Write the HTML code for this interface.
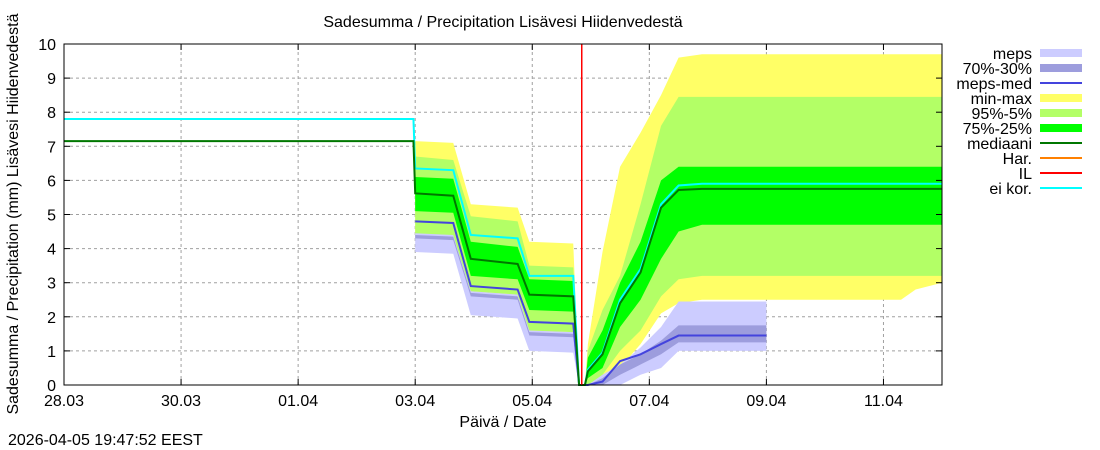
<!DOCTYPE html>
<html><head><meta charset="utf-8"><style>
body{margin:0;background:#fff;}
svg{display:block;font-family:"Liberation Sans",sans-serif;}
</style></head><body>
<svg id="chart" width="1100" height="450" xmlns="http://www.w3.org/2000/svg">
<text x="503" y="27" font-size="16" text-anchor="middle">Sadesumma / Precipitation  Lisävesi Hiidenvedestä</text>
<text transform="translate(18,214) rotate(-90)" font-size="16" text-anchor="middle">Sadesumma / Precipitation (mm)  Lisävesi Hiidenvedestä</text>
<text x="503" y="427" font-size="16" text-anchor="middle">Päivä / Date</text>
<text x="8" y="445" font-size="16">2026-04-05 19:47:52 EEST</text>
<g id="grid"></g>
<g id="bands"></g>
<g id="lines"></g>
<g id="axes"></g>
<g id="legend"></g>
</svg>
<script>
const T      = [0, 5.97, 6.0, 6.65, 6.95, 7.75, 7.95, 8.7, 8.8, 8.9, 8.95, 9.2, 9.5, 9.85, 10.2, 10.5, 10.9, 12.0, 14.3, 14.55, 15.0];
const yMax   = [null,null, 7.15,7.1,5.3,5.2,4.2,4.15,0, 0, 1.2,3.9,6.4,7.4,8.5,9.6,9.7,9.7,9.7,9.7,9.7];
const yMin   = [null,null, 4.35,4.3,2.7,2.6,1.55,1.5,0, 0, 0,0,0.5,1.2,2.1,2.4,2.5,2.5,2.5,2.8,3.0];
const p95    = [null,null, 6.7,6.6,4.95,4.8,3.5,3.45,0, 0, 1.0,2.2,3.2,5.3,7.6,8.45,8.45,8.45,8.45,8.45,8.45];
const p5     = [null,null, 4.4,4.35,2.75,2.65,1.6,1.55,0, 0, 0,0.3,1.0,1.6,2.6,3.1,3.2,3.2,3.2,3.2,3.2];
const p75    = [null,null, 6.1,6.05,4.2,4.05,3.1,3.05,0, 0, 0.8,1.6,3.0,4.2,6.0,6.4,6.4,6.4,6.4,6.4,6.4];
const p25    = [null,null, 5.1,5.05,3.2,3.1,2.2,2.15,0, 0, 0.2,0.5,1.7,2.5,3.7,4.5,4.7,4.7,4.7,4.7,4.7];
const med    = [7.15,7.15, 5.62,5.55,3.7,3.55,2.65,2.6,0, 0, 0.4,0.9,2.4,3.3,5.2,5.72,5.75,5.75,5.75,5.75,5.75];
const eiKor  = [7.8,7.8, 6.35,6.3,4.4,4.3,3.2,3.2,0, 0, 0.45,0.95,2.5,3.4,5.3,5.85,5.9,5.9,5.9,5.9,5.9];
const mepsMax= [null,null, 4.45,4.4,2.75,2.65,1.6,1.55,0, 0, 0,0.3,0.6,1.1,1.7,2.45,2.45,2.45,null,null,null];
const mepsMin= [null,null, 3.9,3.85,2.05,1.95,1.0,0.95,0, 0, 0,0,0,0.3,0.5,1.0,1.0,1.0,null,null,null];
const meps70 = [null,null, 4.4,4.35,2.7,2.6,1.55,1.5,0, 0, 0,0.2,0.6,0.9,1.3,1.75,1.75,1.75,null,null,null];
const meps30 = [null,null, 4.3,4.25,2.6,2.5,1.45,1.4,0, 0, 0,0,0.3,0.6,0.9,1.25,1.25,1.25,null,null,null];
const mepsMed= [null,null, 4.8,4.75,2.9,2.8,1.85,1.8,0, 0, 0,0.1,0.7,0.9,1.2,1.45,1.45,1.45,null,null,null];
const xTickDays = [0,2,4,6,8,10,12,14];
const xTickLabels = ["28.03","30.03","01.04","03.04","05.04","07.04","09.04","11.04"];
const yTicks = [0,1,2,3,4,5,6,7,8,9,10];
const ilDay = 8.84;

const X0=64,X1=942,Y0=385,Y1=44;
const sx=d=>X0+d*(X1-X0)/15;
const sy=v=>Y0-v*(Y0-Y1)/10;
const NS="http://www.w3.org/2000/svg";
function mk(tag,attrs,parent){const e=document.createElementNS(NS,tag);for(const k in attrs)e.setAttribute(k,attrs[k]);parent.appendChild(e);return e;}
const grid=document.getElementById('grid'),bands=document.getElementById('bands'),lines=document.getElementById('lines'),axes=document.getElementById('axes'),legend=document.getElementById('legend');

yTicks.forEach(v=>{
  if(v>0&&v<10){const g=mk('line',{x1:X0,x2:X1,y1:sy(v),y2:sy(v),stroke:'#a0a0a0','stroke-dasharray':'3,3','stroke-width':1},grid);
  
  }
  const t=mk('text',{x:X0-8,y:sy(v)+6,'font-size':16,'text-anchor':'end'},axes);t.textContent=v;
  
  
  mk('line',{x1:X0,x2:X0+6,y1:sy(v),y2:sy(v),stroke:'#000'},axes);
  mk('line',{x1:X1,x2:X1-6,y1:sy(v),y2:sy(v),stroke:'#000'},axes);
});
xTickDays.forEach((d,i)=>{
  if(d>0){const g=mk('line',{x1:sx(d),x2:sx(d),y1:Y0,y2:Y1,stroke:'#a0a0a0','stroke-dasharray':'3,3'},grid);
  
  }
  const t=mk('text',{x:sx(d),y:Y0+21,'font-size':16,'text-anchor':'middle'},axes);t.textContent=xTickLabels[i];
  
  
  mk('line',{x1:sx(d),x2:sx(d),y1:Y0,y2:Y0-6,stroke:'#000'},axes);
  mk('line',{x1:sx(d),x2:sx(d),y1:Y1,y2:Y1+6,stroke:'#000'},axes);
});

function band(up,lo,color,name){
  const idx=T.map((_,i)=>i).filter(i=>up[i]!=null&&lo[i]!=null);
  const pts=idx.map(i=>sx(T[i])+','+sy(up[i])).concat(idx.slice().reverse().map(i=>sx(T[i])+','+sy(lo[i])));
  const p=mk('polygon',{points:pts.join(' '),fill:color},bands);
  
  
}
function line(vals,color,w,name){
  const idx=T.map((_,i)=>i).filter(i=>vals[i]!=null);
  const p=mk('polyline',{points:idx.map(i=>sx(T[i])+','+sy(vals[i])).join(' '),fill:'none',stroke:color,'stroke-width':w},lines);
  
  
}
band(yMax,yMin,'#ffff66','min-max-band');
band(p95,p5,'#b3ff66','p95-p5-band');
band(p75,p25,'#00ff00','p75-p25-band');
band(mepsMax,mepsMin,'#ccccff','meps-band');
band(meps70,meps30,'#9d9ddd','meps-70-30-band');
line(mepsMed,'#4444dd',2,'meps-median-line');
line(eiKor,'#00ffff',2,'ei-kor-line');
line(med,'#007700',2,'median-line');
const il=mk('rect',{x:Math.round(sx(ilDay)),y:Y1,width:1.5,height:Y0-Y1,fill:'#ff0000'},axes);


const fr=mk('rect',{x:X0,y:Y1,width:X1-X0,height:Y0-Y1,fill:'none',stroke:'#000','stroke-width':1},axes);



const legItems=[["meps","#ccccff",8],["70%-30%","#9d9ddd",8],["meps-med","#4444dd",2],["min-max","#ffff66",8],["95%-5%","#b3ff66",8],["75%-25%","#00ff00",8],["mediaani","#007700",2],["Har.","#ff8000",2],["IL","#ff0000",2],["ei kor.","#00ffff",2]];
legItems.forEach((it,i)=>{
  const y=53+i*15;
  const t=mk('text',{x:1032,y:y+6,'font-size':16,'text-anchor':'end'},legend);t.textContent=it[0];
  
  
  const s=mk('line',{x1:1040,x2:1082,y1:y,y2:y,stroke:it[1],'stroke-width':it[2]},legend);
  
  
});
</script>
</body></html>
